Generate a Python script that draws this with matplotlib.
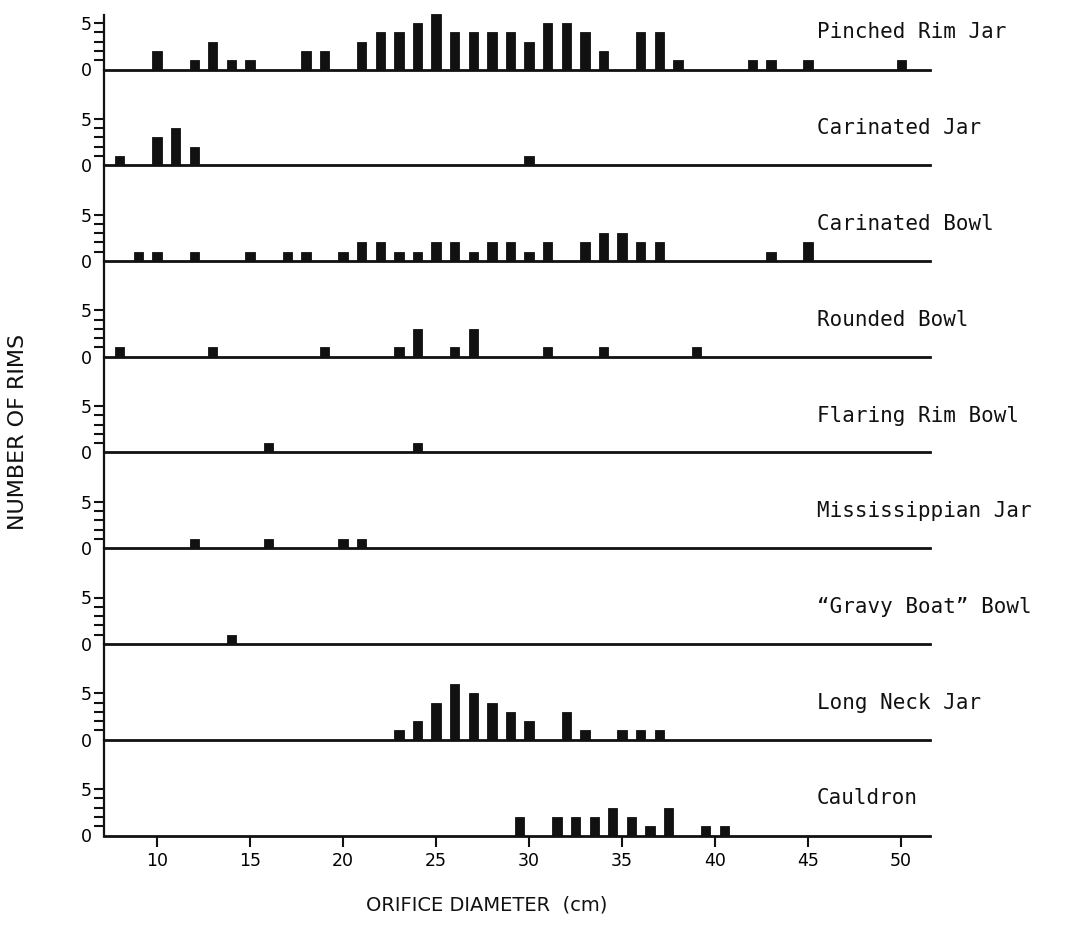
import matplotlib as mpl
import matplotlib.pyplot as plt

mpl.rcParams.update({
    "font.family": ["DejaVu Sans"],
    "font.size": 13,
})

# -----------------------------------------------------------------------------
# Data: rim counts by orifice diameter (cm)
# -----------------------------------------------------------------------------
pinched_x = [10, 12, 13, 14, 15, 18, 19, 21, 22, 23, 24, 25, 26, 27, 28, 29, 30,
             31, 32, 33, 34, 36, 37, 38, 42, 43, 45, 50]
pinched_n = [2, 1, 3, 1, 1, 2, 2, 3, 4, 4, 5, 6, 4, 4, 4, 4, 3,
             5, 5, 4, 2, 4, 4, 1, 1, 1, 1, 1]

carjar_x = [8, 10, 11, 12, 30]
carjar_n = [1, 3, 4, 2, 1]

carbowl_x = [9, 10, 12, 15, 17, 18, 20, 21, 22, 23, 24, 25, 26, 27, 28, 29, 30,
             31, 33, 34, 35, 36, 37, 43, 45]
carbowl_n = [1, 1, 1, 1, 1, 1, 1, 2, 2, 1, 1, 2, 2, 1, 2, 2, 1,
             2, 2, 3, 3, 2, 2, 1, 2]

rounded_x = [8, 13, 19, 23, 24, 26, 27, 31, 34, 39]
rounded_n = [1, 1, 1, 1, 3, 1, 3, 1, 1, 1]

flaring_x = [16, 24]
flaring_n = [1, 1]

missjar_x = [12, 16, 20, 21]
missjar_n = [1, 1, 1, 1]

gravy_x = [14]
gravy_n = [1]

longneck_x = [23, 24, 25, 26, 27, 28, 29, 30, 32, 33, 35, 36, 37]
longneck_n = [1, 2, 4, 6, 5, 4, 3, 2, 3, 1, 1, 1, 1]

cauldron_x = [29.5, 31.5, 32.5, 33.5, 34.5, 35.5, 36.5, 37.5, 39.5, 40.5]
cauldron_n = [2, 2, 2, 2, 3, 2, 1, 3, 1, 1]

panel_names = ["Pinched Rim Jar", "Carinated Jar", "Carinated Bowl", "Rounded Bowl",
               "Flaring Rim Bowl", "Mississippian Jar", "\u201cGravy Boat\u201d Bowl",
               "Long Neck Jar", "Cauldron"]
panel_data = [(pinched_x, pinched_n), (carjar_x, carjar_n), (carbowl_x, carbowl_n),
              (rounded_x, rounded_n), (flaring_x, flaring_n), (missjar_x, missjar_n),
              (gravy_x, gravy_n), (longneck_x, longneck_n), (cauldron_x, cauldron_n)]
x_ticks = [10, 15, 20, 25, 30, 35, 40, 45, 50]

# -----------------------------------------------------------------------------
# Layout (pixel based, stacked panels sharing one vertical axis line)
# -----------------------------------------------------------------------------
W, H = 1073, 931
fig = plt.figure(figsize=(W / 100, H / 100), dpi=100)

x0_px, x1_px = 104, 930
base0, step = 69.5, 95.75
unit_px = 9.3
top_px = 15
INK = "#111111"

for i, (name, (xs, ns)) in enumerate(zip(panel_names, panel_data)):
    base = base0 + step * i
    top = top_px if i == 0 else base - step
    ax = fig.add_axes([x0_px / W, 1 - base / H, (x1_px - x0_px) / W, (base - top) / H])
    ax.patch.set_visible(False)
    ax.bar(xs, ns, width=0.5, color=INK, edgecolor=INK, linewidth=0.6, clip_on=False)
    ax.set_xlim(7.15, 51.55)
    ax.set_ylim(0, (base - top) / unit_px)

    for s in ("top", "right"):
        ax.spines[s].set_visible(False)
    ax.spines["left"].set_linewidth(1.6)
    ax.spines["bottom"].set_linewidth(2.0)
    ax.spines["left"].set_color(INK)
    ax.spines["bottom"].set_color(INK)

    ax.set_yticks([0, 1, 2, 3, 4, 5])
    ax.set_yticklabels(["0", "", "", "", "", "5"])
    ax.tick_params(axis="y", direction="out", length=7, width=1.5, pad=2,
                   labelsize=12.5, color=INK)
    ax.yaxis.get_major_ticks()[0].tick1line.set_visible(False)

    if i == len(panel_names) - 1:
        ax.set_xticks(x_ticks)
        ax.tick_params(axis="x", direction="out", length=8, width=1.5, pad=4,
                       labelsize=12.5, color=INK)
    else:
        ax.set_xticks([])

    fig.text(817 / W, 1 - (base - 37) / H, name, ha="left", va="center",
             fontsize=15, family="DejaVu Sans Mono", color=INK)

fig.text(18 / W, 1 - 432 / H, "NUMBER OF RIMS", rotation=90, ha="center",
         va="center", fontsize=16, color=INK)
fig.text(487 / W, 1 - 905 / H, "ORIFICE DIAMETER  (cm)", ha="center",
         va="center", fontsize=14, color=INK)

fig.savefig("out.png", dpi=100)
